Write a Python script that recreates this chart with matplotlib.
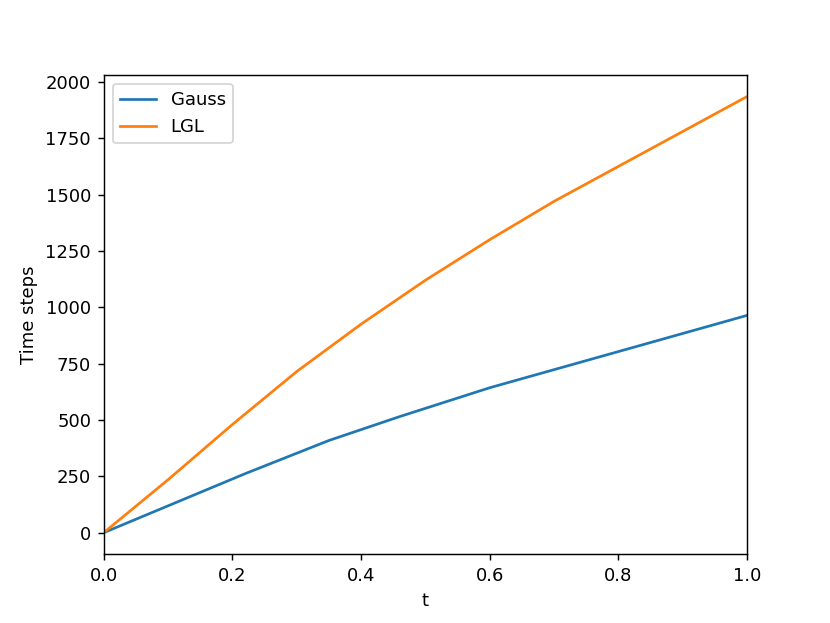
import numpy as np
import matplotlib
matplotlib.use("Agg")
import matplotlib.pyplot as plt

# time stamps and step counts
t_gauss = [0.0, 0.22, 0.35, 0.46, 0.60, 1.0]
steps_gauss = [0, 262, 409, 515, 643, 964]

t_lgl = [0.0, 0.1, 0.2, 0.3, 0.4, 0.5, 0.6, 0.7, 0.8, 0.9, 1.0]
steps_lgl = [0, 235, 480, 715, 925, 1120, 1300, 1470, 1625, 1780, 1935]


def plot_steps():
	fig = plt.figure(figsize=(830 / 130, 623 / 130), dpi=130)
	ax = fig.add_subplot(111)
	ax.plot(t_gauss, steps_gauss, label='Gauss')
	ax.plot(t_lgl, steps_lgl, label='LGL')
	ax.set_xlim(0, 1)
	ax.set_xlabel('t')
	ax.set_ylabel('Time steps')
	ax.legend(loc='upper left')
	fig.savefig('out.png', dpi=130)


if __name__ == '__main__':
	plot_steps()
